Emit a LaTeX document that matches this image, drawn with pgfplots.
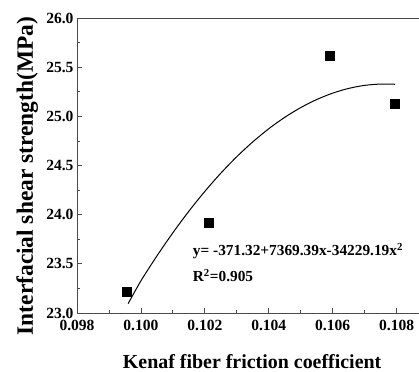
\documentclass[border=0pt]{standalone}
\usepackage{pgfplots}
\pgfplotsset{compat=1.18}
\usepackage{fontspec}
\setmainfont{Liberation Serif}
\begin{document}
\begin{tikzpicture}
\begin{axis}[
  scale only axis, width=342bp, height=295bp,
  xmin=0.098, xmax=0.1087, ymin=23, ymax=26,
  axis x line*=bottom, axis y line*=left,
  axis line style={black!70, line width=0.8pt},
  tick align=inside,
  tick style={black!70, line width=0.8pt},
  major tick length=5bp, minor tick length=2.8bp,
  xtick={0.098,0.100,0.102,0.104,0.106,0.108},
  ytick={23,23.5,24,24.5,25,25.5,26},
  minor x tick num=1, minor y tick num=1,
  scaled x ticks=false,
  /pgf/number format/assume math mode=true,
  xticklabel style={/pgf/number format/.cd, fixed, fixed zerofill, precision=3, /tikz/.cd, yshift=-4bp},
  yticklabel style={/pgf/number format/.cd, fixed, fixed zerofill, precision=1},
  ticklabel style={font=\bfseries\fontsize{15.6}{15.6}\selectfont},
  clip=false,
]
\addplot[black, line width=1pt, smooth] coordinates {
 (0.09960,23.095) (0.1000,23.327) (0.1005,23.580) (0.1010,23.816) (0.1015,24.035)
 (0.1020,24.237) (0.1025,24.422) (0.1030,24.590) (0.1035,24.740) (0.1040,24.874)
 (0.1045,24.990) (0.1050,25.089) (0.1055,25.171) (0.1060,25.236) (0.1065,25.284)
 (0.1070,25.315) (0.1075,25.328) (0.10795,25.326)
};
\addplot[only marks, mark=square*, mark size=4.5bp, black] coordinates {
 (0.09954,23.217) (0.10212,23.92) (0.10592,25.62) (0.10793,25.126)
};
\draw[black!70, line width=0.8pt] (rel axis cs:0,1) -- (rel axis cs:1,1);
\node[anchor=base west, font=\bfseries\fontsize{15.4}{15.4}\selectfont, inner sep=0pt] at (axis cs:0.10162,23.585) {y= -371.32+7369.39x-34229.19x\textsuperscript{2}};
\node[anchor=base west, font=\bfseries\fontsize{15.4}{15.4}\selectfont, inner sep=0pt] at (axis cs:0.10162,23.32) {R\textsuperscript{2}=0.905};
\node[anchor=base, font=\bfseries\fontsize{20}{20}\selectfont, inner sep=0pt] at (axis description cs:0.512,-0.187) {Kenaf fiber friction coefficient};
\node[rotate=90, anchor=base, font=\bfseries\fontsize{23.5}{23.5}\selectfont, inner sep=0pt] at (axis description cs:-0.1287,0.464) {Interfacial shear strength(MPa)};
\coordinate (bl) at (rel axis cs:0,0);
\coordinate (tr) at (rel axis cs:1,1);
\end{axis}
\pgfresetboundingbox
\path[use as bounding box] ([shift={(-77bp,-59bp)}]bl) rectangle ([shift={(0bp,18bp)}]tr);
\end{tikzpicture}
\end{document}
